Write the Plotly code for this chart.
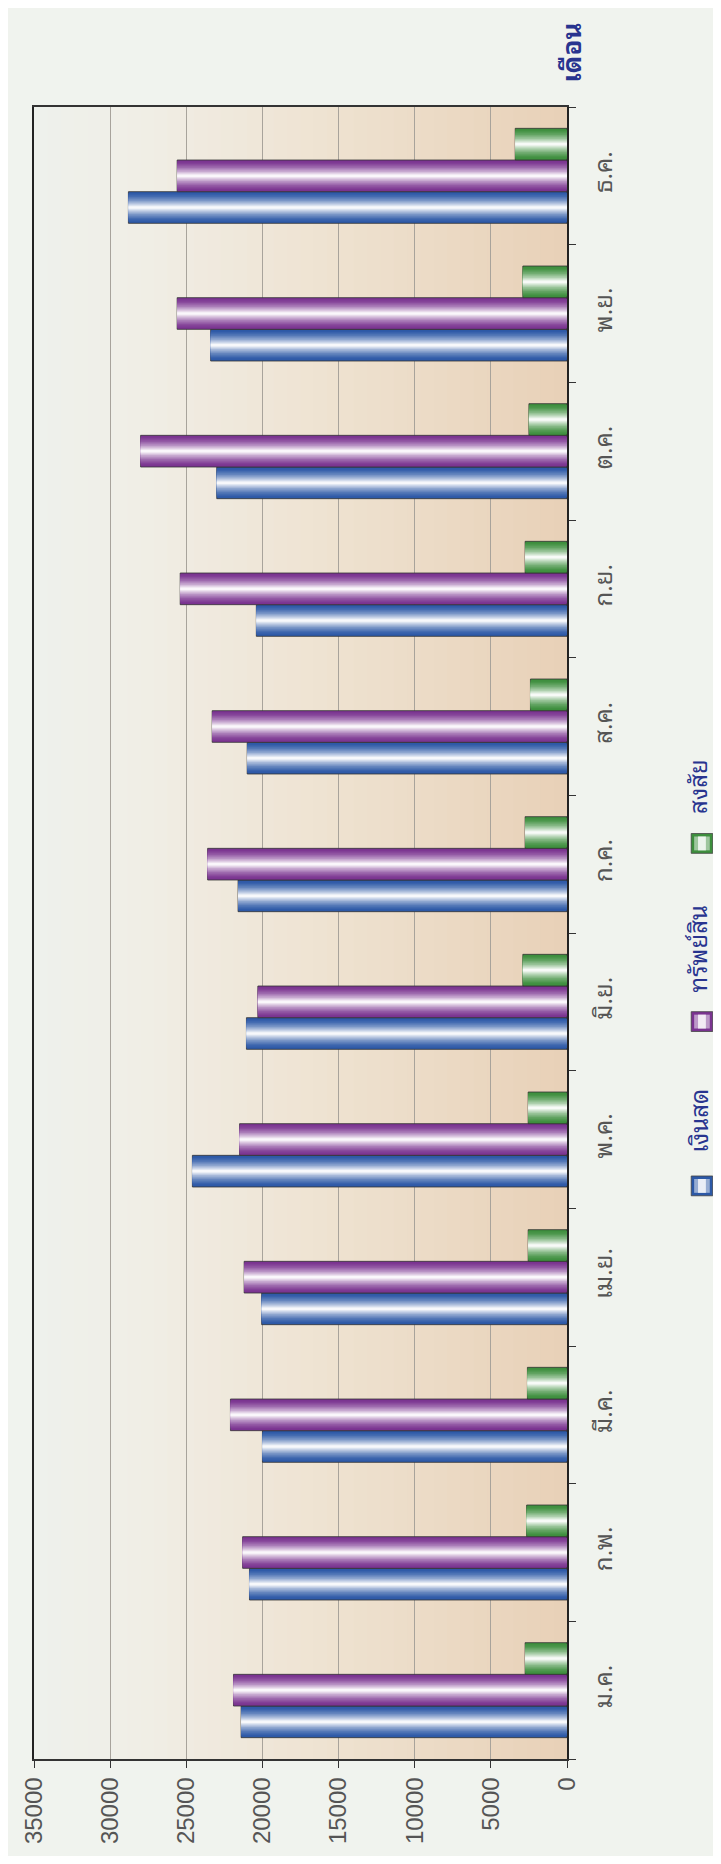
import plotly.graph_objects as go

# ---------------- data ----------------
months = ["ม.ค.", "ก.พ.", "มี.ค.", "เม.ย.", "พ.ค.", "มิ.ย.",
          "ก.ค.", "ส.ค.", "ก.ย.", "ต.ค.", "พ.ย.", "ธ.ค."]
cash = [21400, 20850, 20000, 20050, 24600, 21050, 21600, 21000, 20400, 23000, 23400, 28800]
assets = [21900, 21300, 22100, 21200, 21500, 20300, 23600, 23300, 25400, 28000, 25600, 25600]
doubtful = [2750, 2650, 2600, 2550, 2550, 2900, 2750, 2400, 2750, 2500, 2900, 3400]
series_names = ["เงินสด", "ทรัพย์สิน", "สงสัย"]
value_ticks = [0, 5000, 10000, 15000, 20000, 25000, 30000, 35000]
axis_title = "เดือน"

# ---------------- styling ----------------
THAI = ("Noto Sans Thai Looped, Loma, Garuda, Norasi, Kinnari, Tahoma, "
        "Noto Sans Thai, DejaVu Sans, sans-serif")
NUM = "Liberation Sans, Arial, sans-serif"
TXT_BLUE = "#28348f"
edge_cols = ["#2c58a6", "#7a3390", "#3d8e3d"]
BAR_W = 0.23
offsets = [-0.345, -0.115, 0.115]
N_LAYERS = 12

# figure is drawn inside the page body (8px default margin)
FW, FH = 713, 1848
OFF = 8


def hex2rgb(h):
    h = h.lstrip("#")
    return tuple(int(h[i:i + 2], 16) for i in (0, 2, 4))


def mix(c1, c2, t):
    a, b = hex2rgb(c1), hex2rgb(c2)
    return "rgb(%d,%d,%d)" % tuple(round(a[i] + (b[i] - a[i]) * t) for i in range(3))


fig = go.Figure()
series_vals = [cash, assets, doubtful]
for si, vals in enumerate(series_vals):
    center = offsets[si] + BAR_W / 2
    for k in range(N_LAYERS):
        f = 1 - k / N_LAYERS
        w = BAR_W * f
        t = (k / (N_LAYERS - 1)) ** 1.6 * 0.96
        fig.add_trace(go.Bar(
            y=months, x=vals, orientation="h",
            width=w, offset=center - w / 2,
            marker=dict(color=mix(edge_cols[si], "#ffffff", t),
                        line=dict(color="#353535", width=0.8 if k == 0 else 0)),
            name=series_names[si], showlegend=False, hoverinfo="x+name",
        ))

# plot background gradient strips
stops = [(0.0, "#eef1ec"), (0.2, "#f0eee6"), (0.5, "#efe4d4"), (1.0, "#e8d1b7")]


def grad(p):
    for (p0, c0), (p1, c1) in zip(stops[:-1], stops[1:]):
        if p0 <= p <= p1:
            return mix(c0, c1, (p - p0) / (p1 - p0))
    return stops[-1][1]


shapes = []
NS = 40
for i in range(NS):
    shapes.append(dict(type="rect", xref="x domain", yref="y domain",
                       x0=i / NS, x1=(i + 1) / NS + 0.002, y0=0, y1=1,
                       fillcolor=grad((i + 0.5) / NS), line=dict(width=0), layer="below"))

# pixel helpers (page pixels) for the custom rotated legend
L, R, T, B = 22, 567, 107, 1776
W, H = R - L, B - T


def fx(px):
    return (px - L) / W


def fy(py):
    return (B - py) / H


legend_items = [(1197, 1131), (1031, 958), (851, 794)]
annotations = []
for si, (sy, ty) in enumerate(legend_items):
    shapes.append(dict(type="rect", xref="paper", yref="paper",
                       x0=fx(694), x1=fx(716), y0=fy(sy + 10), y1=fy(sy - 10),
                       fillcolor=edge_cols[si], line=dict(color="#444", width=0.8)))
    shapes.append(dict(type="rect", xref="paper", yref="paper",
                       x0=fx(697), x1=fx(713), y0=fy(sy + 7), y1=fy(sy - 7),
                       fillcolor=mix(edge_cols[si], "#ffffff", 0.5), line=dict(width=0)))
    shapes.append(dict(type="rect", xref="paper", yref="paper",
                       x0=fx(701), x1=fx(709), y0=fy(sy + 7), y1=fy(sy - 7),
                       fillcolor=mix(edge_cols[si], "#ffffff", 0.9), line=dict(width=0)))
    annotations.append(dict(xref="paper", yref="paper", x=fx(699), y=fy(ty),
                            text=series_names[si], textangle=-90, showarrow=False,
                            xanchor="center", yanchor="middle",
                            font=dict(family=THAI, size=24, color=TXT_BLUE)))

annotations.append(dict(xref="paper", yref="paper", x=fx(569), y=fy(52),
                        text="<b>" + axis_title + "</b>", textangle=-90, showarrow=False,
                        xanchor="center", yanchor="middle",
                        font=dict(family=THAI, size=26, color=TXT_BLUE)))

fig.update_layout(
    width=FW, height=FH,
    margin=dict(l=L - OFF, r=FW - (R - OFF), t=T - OFF, b=FH - (B - OFF)),
    paper_bgcolor="#f0f3ee", plot_bgcolor="#eef0ea",
    barmode="overlay", showlegend=False,
    shapes=shapes, annotations=annotations,
    xaxis=dict(range=[35000, 0], tickvals=value_ticks,
               ticktext=[str(v) for v in value_ticks],
               tickangle=-90, ticks="outside", ticklen=7, tickcolor="#333",
               ticklabeloverflow="allow",
               showgrid=True, gridcolor="#a8a39b", gridwidth=1,
               showline=True, linecolor="#333", linewidth=1.5, mirror=True,
               zeroline=False,
               tickfont=dict(family=NUM, size=24, color="#555")),
    yaxis=dict(type="category", categoryorder="array", categoryarray=months,
               range=[-0.5, 11.5], side="right",
               tickangle=-90, ticks="outside", ticklen=7, tickcolor="#333",
               tickson="boundaries", showgrid=False,
               showline=True, linecolor="#222", linewidth=1.5, mirror=True,
               ticklabelstandoff=14,
               tickfont=dict(family=THAI, size=24, color="#555")),
)

fig.write_html("out.html")
